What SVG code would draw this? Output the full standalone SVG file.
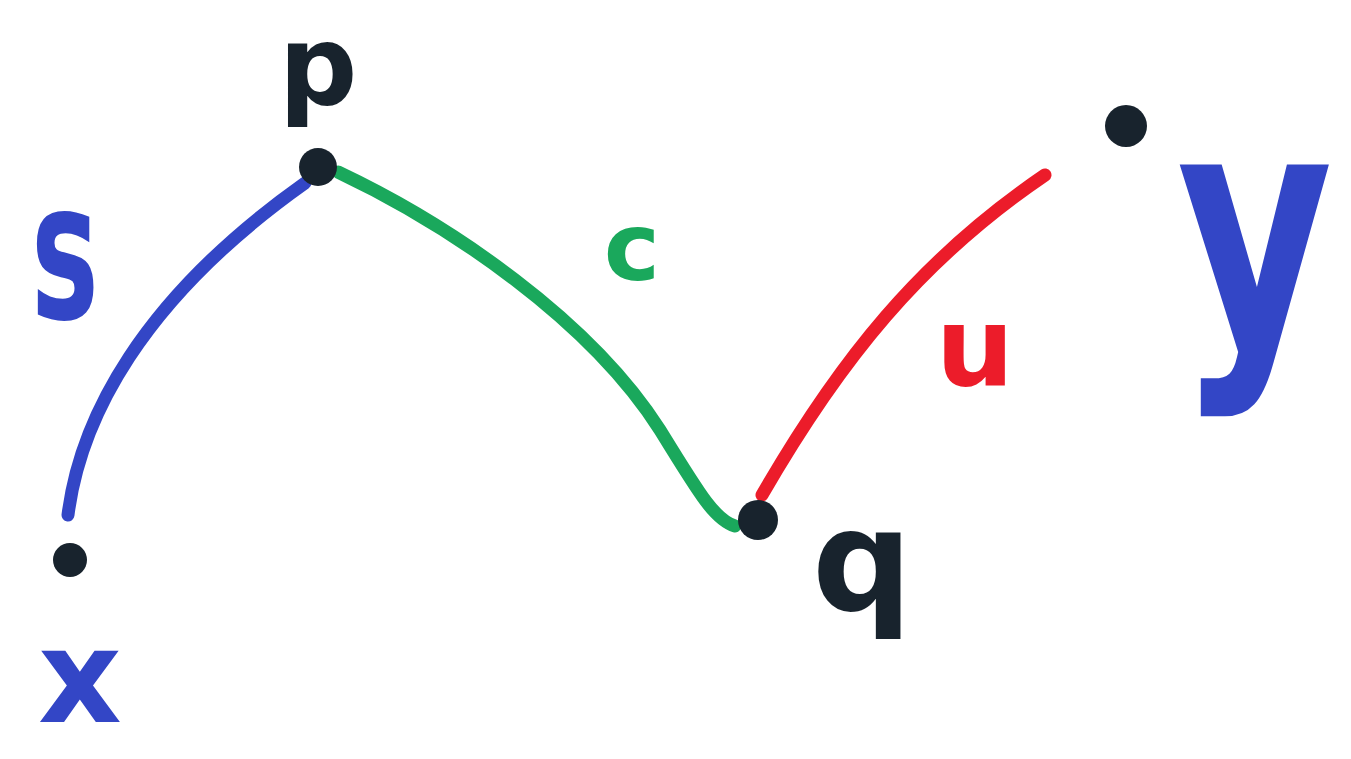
<svg xmlns="http://www.w3.org/2000/svg" width="1351" height="759" viewBox="0 0 1351 759">
<style>
.lbl{font-family:"DejaVu Sans","Liberation Sans",sans-serif;font-weight:bold;text-anchor:middle}
.dark{fill:#18232d}
.blue{fill:#3346c6}
.green{fill:#1aa85c}
.red{fill:#ec1c2a}
.edge{fill:none;stroke-width:13;stroke-linecap:round}
</style>
<rect width="1351" height="759" fill="#ffffff"/>
<g id="connectors">
<path id="edge-s" class="edge" stroke="#3346c6" d="M68,515 C80,420 140,300 305,183"/>
<path id="edge-c" class="edge" stroke="#1aa85c" d="M338,172 C450,225 590,320 660,430 C700,495 715,520 735,526"/>
<path id="edge-u" class="edge" stroke="#ec1c2a" d="M762,495 C840,360 920,260 1045,175"/>
</g>
<g id="node-p">
<circle cx="318" cy="167" r="19" class="dark"/>
<text class="lbl dark" x="318" y="104" font-size="110">p</text>
</g>
<g id="node-x">
<circle cx="70" cy="560" r="17" class="dark"/>
<text class="lbl blue" x="80" y="722" font-size="130">x</text>
</g>
<g id="node-q">
<circle cx="758" cy="520" r="20" class="dark"/>
<text class="lbl dark" x="862" y="610" font-size="140">q</text>
</g>
<g id="node-y">
<circle cx="1126" cy="126" r="21" class="dark"/>
<text class="lbl blue" transform="translate(1255,345) scale(0.8,1.1)" x="0" y="0" font-size="300">y</text>
</g>
<g id="labels">
<text class="lbl blue" transform="translate(65,318) scale(0.6,1)" x="0" y="0" font-size="190">s</text>
<text class="lbl green" x="632" y="280" font-size="95">c</text>
<text class="lbl red" x="975" y="385" font-size="110">u</text>
</g>
</svg>
